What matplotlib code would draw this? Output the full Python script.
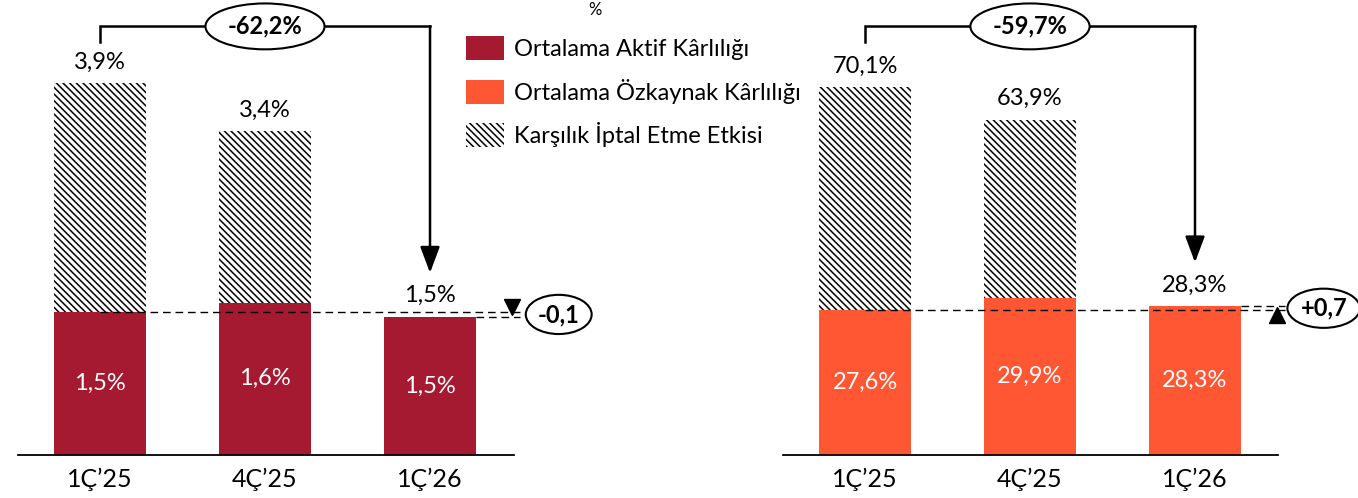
import matplotlib.pyplot as plt
from matplotlib.patches import Patch

plt.rcParams['font.family'] = ['Lato', 'DejaVu Sans']
plt.rcParams['hatch.linewidth'] = 1.1

# veriler
quarters = ["1Ç’25", "4Ç’25", "1Ç’26"]

roa = [1.5, 1.6, 1.45]
roa_total = [3.9, 3.4]
roa_labels = ["1,5%", "1,6%", "1,5%"]
roa_total_labels = ["3,9%", "3,4%"]
roa_change = "-62,2%"
roa_delta = "-0,1"

roe = [27.6, 29.9, 28.3]
roe_total = [70.1, 63.9]
roe_labels = ["27,6%", "29,9%", "28,3%"]
roe_total_labels = ["70,1%", "63,9%"]
roe_change = "-59,7%"
roe_delta = "+0,7"

legend_labels = ["Ortalama Aktif Kârlılığı", "Ortalama Özkaynak Kârlılığı",
                 "Karşılık İptal Etme Etkisi"]

RED = "#A51931"
ORANGE = "#FF5733"
HATCH = "\\\\\\\\\\"

W, H = 1358, 498
BASE = 455  # piksel, eksen çizgisi
BAR_W = 0.557
FS = 17


def px(ax, n):
    """piksel -> veri birimi"""
    return n * ax.get_ylim()[1] / BASE


def draw_panel(ax, vals, totals, labels, total_labels, color, ymax,
               change, delta, delta_up):
    x = list(range(len(vals)))
    ax.set_ylim(0, ymax)

    ax.bar(x, vals, width=BAR_W, color=color, zorder=2)
    extra = [t - v for t, v in zip(totals, vals)]
    ax.bar(x[:len(totals)], extra, bottom=vals[:len(totals)], width=BAR_W,
           color="white", edgecolor="black", hatch=HATCH, linewidth=0, zorder=2)

    # etiketler
    for i, (v, lab) in enumerate(zip(vals, labels)):
        ax.text(i, v / 2, lab, color="white", ha="center", va="center",
                fontsize=FS, zorder=4)
    for i, (t, lab) in enumerate(zip(totals, total_labels)):
        ax.text(i, t + px(ax, 21), lab, ha="center", va="center",
                fontsize=FS, zorder=4)
    last = len(vals) - 1
    ax.text(last, vals[last] + px(ax, 21), labels[last], ha="center",
            va="center", fontsize=FS, zorder=4,
            bbox=dict(boxstyle="square,pad=0.1", fc="white", ec="none"))

    # kesikli çizgiler
    x_end = last + 0.545
    ax.plot([0, x_end], [vals[0], vals[0]], color="black", lw=1,
            ls=(0, (5.5, 3.5)), zorder=3, clip_on=False)
    ax.plot([last + BAR_W / 2, x_end], [vals[last], vals[last]], color="black",
            lw=1, ls=(0, (5.5, 3.5)), zorder=3, clip_on=False)

    # değişim üçgeni ve elips
    if delta_up:
        ax.plot(last + 0.497, vals[last] - px(ax, 9), marker="^", ms=12,
                color="black", clip_on=False, zorder=4)
    else:
        ax.plot(last + 0.497, vals[last] + px(ax, 10), marker="v", ms=12,
                color="black", clip_on=False, zorder=4)
    ax.text(last + 0.78, (vals[0] + vals[last]) / 2, delta, ha="center",
            va="center", fontsize=FS, fontweight="bold", zorder=5,
            bbox=dict(boxstyle="ellipse,pad=0.1", fc="white", ec="black", lw=1.5))

    # üst köprü + ok
    y_br = 0.942 * ymax
    y_leg = 0.908 * ymax
    tip = vals[last] + px(ax, 44)
    ax.plot([0, 0, last], [y_leg, y_br, y_br], color="black", lw=1.8,
            clip_on=False, zorder=3, solid_joinstyle="miter")
    ax.annotate("", xy=(last, tip), xytext=(last, y_br),
                arrowprops=dict(arrowstyle="-|>,head_length=0.8,head_width=0.3",
                                mutation_scale=20, lw=1.8, color="black",
                                shrinkA=0, shrinkB=0),
                annotation_clip=False, zorder=3)
    ax.text(1, y_br, change, ha="center", va="center", fontsize=FS,
            fontweight="bold", zorder=5,
            bbox=dict(boxstyle="ellipse,pad=0.2", fc="white", ec="black", lw=1.5))

    ax.set_xticks(x)
    ax.set_xticklabels(quarters, fontsize=18)
    ax.set_yticks([])
    ax.tick_params(axis="x", length=0, pad=9)
    for s in ["top", "left", "right"]:
        ax.spines[s].set_visible(False)
    ax.spines["bottom"].set_linewidth(1.3)
    ax.spines["bottom"].set_zorder(3)


fig = plt.figure(figsize=(W / 100, H / 100), dpi=100)
axL = fig.add_axes([18 / W, (H - BASE) / H, 496 / W, BASE / H])
axR = fig.add_axes([783 / W, (H - BASE) / H, 495 / W, BASE / H])
axL.set_xlim(-0.497, 2.509)
axR.set_xlim(-0.497, 2.503)

draw_panel(axL, roa, roa_total, roa_labels, roa_total_labels, RED,
           BASE / 95.3, roa_change, roa_delta, False)
draw_panel(axR, roe, roe_total, roe_labels, roe_total_labels, ORANGE,
           BASE / 5.25, roe_change, roe_delta, True)

handles = [Patch(fc=RED), Patch(fc=ORANGE),
           Patch(fc="white", ec="black", hatch=HATCH, lw=0)]
fig.legend(handles, legend_labels, loc="upper left",
           bbox_to_anchor=(466 / W, 1 - 36 / H), frameon=False, fontsize=17,
           handlelength=1.6, handleheight=1.2, handletextpad=0.45,
           labelspacing=0.78, borderpad=0, borderaxespad=0)

fig.text(595 / W, 1 - 10 / H, "%", ha="center", va="center", fontsize=12)

fig.savefig("out.png", dpi=100)
